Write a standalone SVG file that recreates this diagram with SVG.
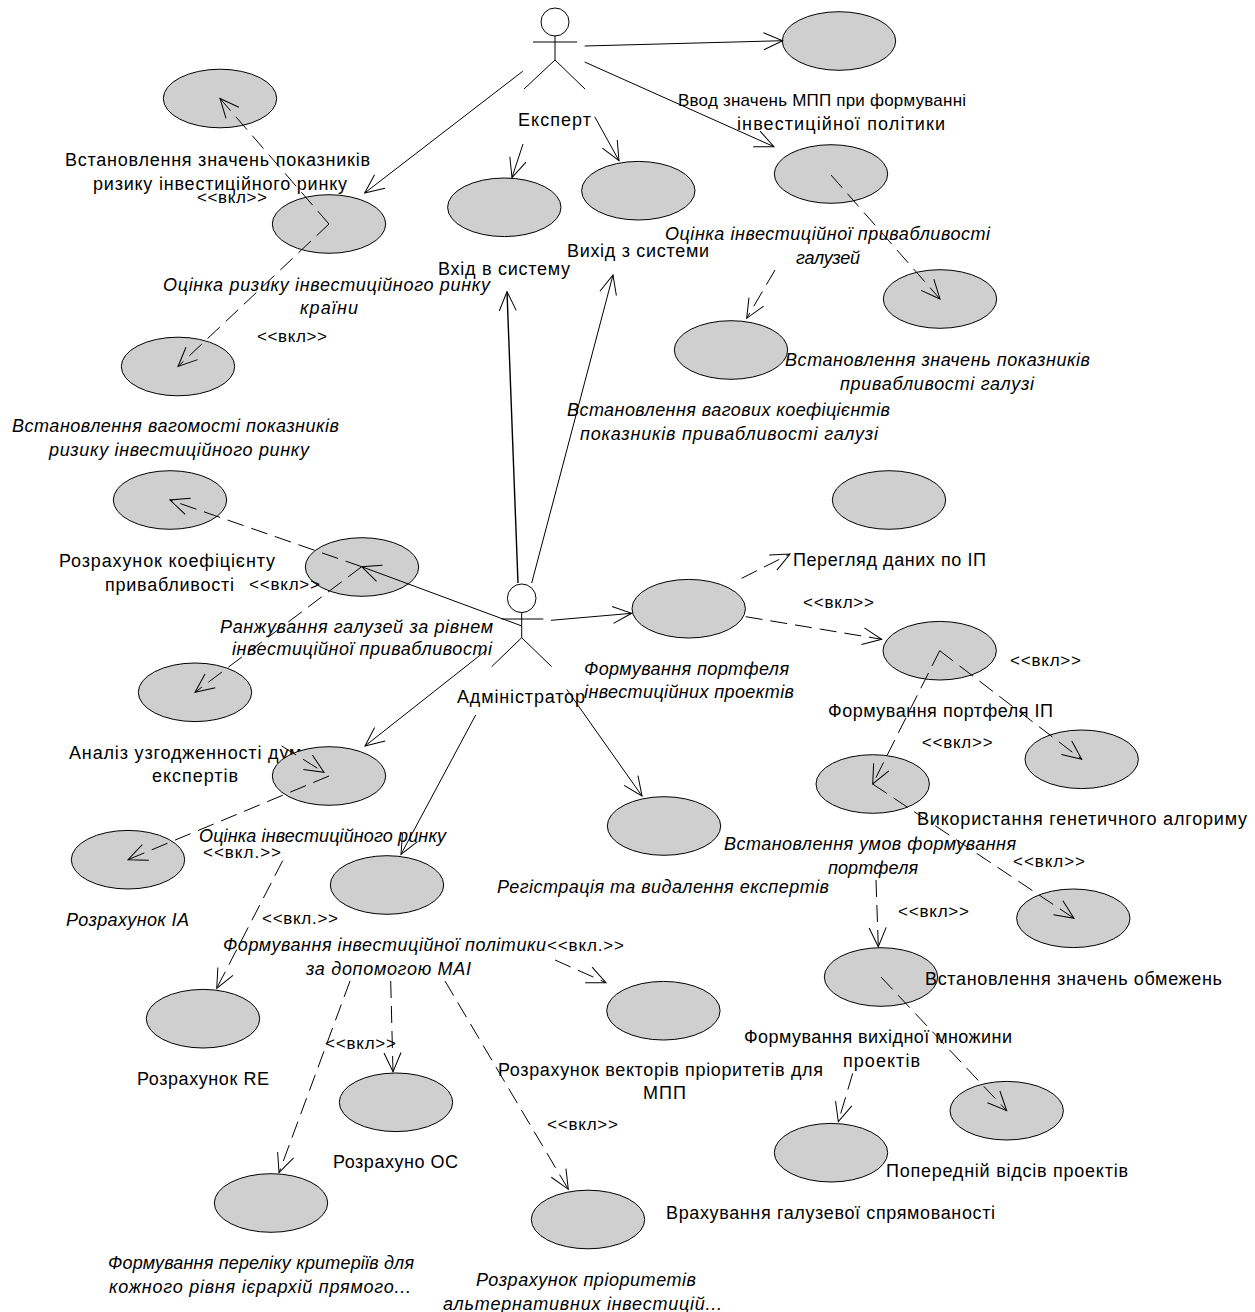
<svg xmlns="http://www.w3.org/2000/svg" width="1255" height="1312" viewBox="0 0 1255 1312">
<style>
text{font-family:"Liberation Sans",Arial,sans-serif;font-size:18px;fill:#000}
.i{font-style:italic}
.s{font-size:17px}
ellipse{fill:#cfcfcf;stroke:#000;stroke-width:1}
.a{fill:none;stroke:#000;stroke-width:1}
.n{fill:#fff}
.d{stroke-dasharray:17 8}
</style>
<defs><marker id="h" markerUnits="userSpaceOnUse" markerWidth="22" markerHeight="20" refX="20" refY="10" orient="auto"><path d="M1 1.5L20 10L1 18.5" fill="none" stroke="#000"/></marker></defs>
<g id="n1"><ellipse cx="839" cy="41" rx="56.7" ry="29.3"/><text class="s" x="678" y="106" textLength="288">Ввод значень МПП при формуванні</text><text x="737" y="130" textLength="208">інвестиційної політики</text></g>
<g id="n2"><ellipse cx="220" cy="98.5" rx="56.7" ry="29.3"/><text x="65" y="166" textLength="305">Встановлення значень показників</text><text x="93" y="190" textLength="254">ризику інвестиційного ринку</text></g>
<g id="n3"><ellipse cx="329" cy="224" rx="56.7" ry="29.3"/><text class="i" x="163" y="291" textLength="327">Оцінка ризику інвестиційного ринку</text><text class="i" x="300" y="314" textLength="58">країни</text></g>
<g id="n4"><ellipse cx="504.3" cy="207.3" rx="56.7" ry="29.3"/><text x="438" y="275" textLength="132">Вхід в систему</text></g>
<g id="n5"><ellipse cx="638.3" cy="190.7" rx="56.7" ry="29.3"/><text x="567" y="257" textLength="142">Вихід з системи</text></g>
<g id="n6"><ellipse cx="831" cy="174" rx="56.7" ry="29.3"/><text class="i" x="665" y="240" textLength="325">Оцінка інвестиційної привабливості</text><text class="i" x="796" y="264" textLength="64">галузей</text></g>
<g id="n7"><ellipse cx="940" cy="299" rx="56.7" ry="29.3"/><text class="i" x="785" y="366" textLength="305">Встановлення значень показників</text><text class="i" x="840" y="390" textLength="194">привабливості галузі</text></g>
<g id="n8"><ellipse cx="731" cy="350" rx="56.7" ry="29.3"/><text class="i" x="567" y="416" textLength="323">Встановлення вагових коефіцієнтів</text><text class="i" x="580" y="440" textLength="298">показників привабливості галузі</text></g>
<g id="n9"><ellipse cx="178" cy="366.5" rx="56.7" ry="29.3"/><text class="i" x="12" y="432" textLength="327">Встановлення вагомості показників</text><text class="i" x="49" y="456" textLength="260">ризику інвестиційного ринку</text></g>
<g id="n10"><ellipse cx="889" cy="500" rx="56.7" ry="29.3"/><text x="793" y="566" textLength="193">Перегляд даних по ІП</text></g>
<g id="n11"><ellipse cx="170" cy="500" rx="56.7" ry="29.3"/><text x="59" y="566.5" textLength="216">Розрахунок коефіцієнту</text><text x="105" y="590.5" textLength="129">привабливості</text></g>
<g id="n12"><ellipse cx="362" cy="567" rx="56.7" ry="29.3"/><text class="i" x="220" y="633" textLength="273">Ранжування галузей за рівнем</text><text class="i" x="232" y="655" textLength="260">інвестиційної привабливості</text></g>
<g id="n13"><ellipse cx="195" cy="692.3" rx="56.7" ry="29.3"/><text x="69" y="759" textLength="252">Аналіз узгодженності думок</text><text x="152" y="782" textLength="86">експертів</text></g>
<g id="n14"><ellipse cx="688.7" cy="608.7" rx="56.7" ry="29.3"/><text class="i" x="584" y="675" textLength="205">Формування портфеля</text><text class="i" x="584" y="698" textLength="210">інвестиційних проектів</text></g>
<g id="n15"><ellipse cx="939.7" cy="650.7" rx="56.7" ry="29.3"/><text x="828" y="717" textLength="225">Формування портфеля ІП</text></g>
<g id="n16"><ellipse cx="329" cy="776" rx="56.7" ry="29.3"/><text class="i" x="199" y="842" textLength="247">Оцінка інвестиційного ринку</text></g>
<g id="n17"><ellipse cx="128" cy="859.7" rx="56.7" ry="29.3"/><text class="i" x="66" y="926" textLength="123">Розрахунок ІА</text></g>
<g id="n18"><ellipse cx="1081.7" cy="759.3" rx="56.7" ry="29.3"/><text x="917" y="825" textLength="330">Використання генетичного алгориму</text></g>
<g id="n19"><ellipse cx="872.7" cy="784" rx="56.7" ry="29.3"/><text class="i" x="724" y="850" textLength="292">Встановлення умов формування</text><text class="i" x="828" y="874" textLength="90">портфеля</text></g>
<g id="n20"><ellipse cx="664" cy="826" rx="56.7" ry="29.3"/><text class="i" x="497" y="893" textLength="332">Регістрація та видалення експертів</text></g>
<g id="n21"><ellipse cx="387" cy="885" rx="56.7" ry="29.3"/><text class="i" x="223" y="951" textLength="323">Формування інвестиційної політики</text><text class="i" x="306" y="975" textLength="165">за допомогою МАІ</text></g>
<g id="n23"><ellipse cx="881" cy="977" rx="56.7" ry="29.3"/><text x="744" y="1043" textLength="268">Формування вихідної множини</text><text x="843" y="1067" textLength="77">проектів</text></g>
<g id="n22"><ellipse cx="1073.3" cy="918.3" rx="56.7" ry="29.3"/><text x="925" y="985" textLength="297">Встановлення значень обмежень</text></g>
<g id="n24"><ellipse cx="203" cy="1018.7" rx="56.7" ry="29.3"/><text x="137" y="1085" textLength="132">Розрахунок RE</text></g>
<g id="n25"><ellipse cx="663.4" cy="1010.7" rx="56.7" ry="29.3"/><text x="498" y="1076" textLength="325">Розрахунок векторів пріоритетів для</text><text x="643" y="1099" textLength="43">МПП</text></g>
<g id="n26"><ellipse cx="396" cy="1102.3" rx="56.7" ry="29.3"/><text x="333" y="1168" textLength="125">Розрахуно ОС</text></g>
<g id="n27"><ellipse cx="1006.7" cy="1110.7" rx="56.7" ry="29.3"/><text x="886" y="1177" textLength="242">Попередній відсів проектів</text></g>
<g id="n28"><ellipse cx="831" cy="1152.7" rx="56.7" ry="29.3"/><text x="666" y="1219" textLength="329">Врахування галузевої спрямованості</text></g>
<g id="n29"><ellipse cx="271" cy="1203" rx="56.7" ry="29.3"/><text class="i" x="108" y="1269" textLength="306">Формування переліку критеріїв для</text><text class="i" x="109" y="1293" textLength="302">кожного рівня ієрархій прямого...</text></g>
<g id="n30"><ellipse cx="588" cy="1219.5" rx="56.7" ry="29.3"/><text class="i" x="476" y="1286" textLength="220">Розрахунок пріоритетів</text><text class="i" x="443" y="1310" textLength="279">альтернативних інвестицій...</text></g>
<g id="actor-expert" class="a"><circle cx="555" cy="22" r="14"/><path d="M533 42H577M555 36V60M555 60L524 89M555 60L585 89"/></g>
<g id="actor-admin" class="a"><circle cx="521.7" cy="598.3" r="14.3"/><path d="M501.7 619H543.3M521.7 612.6V637.7M521.7 637.7L491.7 666.7M521.7 637.7L551.7 666.7"/></g>
<text x="518" y="126" textLength="73">Експерт</text>
<text x="457" y="703" textLength="128">Адміністратор</text>
<g id="connectors" class="a">
<path d="M584.7 46L782.7 40.7" marker-end="url(#h)"/>
<path d="M584.7 62L774 146.7" marker-end="url(#h)"/>
<path d="M522.7 71.3L364.7 193" marker-end="url(#h)"/>
<path d="M523 144L512 177.5" marker-end="url(#h)"/>
<path d="M594.7 116.7L619 160.7" marker-end="url(#h)"/>
<path d="M518 583L507 291.7" stroke-width="1.4" marker-end="url(#h)"/>
<path d="M531.7 583L613 275" marker-end="url(#h)"/>
<path d="M551 620.3L631.7 613.3" marker-end="url(#h)"/>
<path d="M475.7 715L401 854.3" marker-end="url(#h)"/>
<path d="M566.7 689.3L642 796" marker-end="url(#h)"/>
<path d="M486.7 650L365 746" marker-end="url(#h)"/>
<path d="M521 625.7L361.7 566.7" marker-end="url(#h)"/>
<path class="d" d="M329 224L220 98.5" marker-end="url(#h)"/>
<path class="d" d="M329 224L178 366.5" marker-end="url(#h)"/>
<path class="d" d="M831 175L940 299" marker-end="url(#h)"/>
<path class="d" d="M775 270L746.7 318.3" marker-end="url(#h)"/>
<path class="d" d="M361.7 566.7L170 500" marker-end="url(#h)"/>
<path class="d" d="M361.7 566.7L195 692.3" marker-end="url(#h)"/>
<path class="d" d="M741.7 578.3L790 554" marker-end="url(#h)"/>
<path class="d" d="M745.7 616.7L881.7 639.3" marker-end="url(#h)"/>
<path class="d" d="M939.7 650.7L1081.7 759.3" marker-end="url(#h)"/>
<path class="d" d="M939.7 650.7L872.7 784" marker-end="url(#h)"/>
<path class="d" d="M872.7 784L1074 918.3" marker-end="url(#h)"/>
<path class="d" d="M876 880L878.3 946.7" marker-end="url(#h)"/>
<path class="d" d="M881 977L1006.7 1110.7" marker-end="url(#h)"/>
<path class="d" d="M852.7 1073.3L838.3 1121.7" marker-end="url(#h)"/>
<path class="d" d="M281.7 746L324 772.3" marker-end="url(#h)"/>
<path class="d" d="M329 776L128 859.7" marker-end="url(#h)"/>
<path class="d" d="M282.7 860.7L216.7 988.3" marker-end="url(#h)"/>
<path class="d" d="M350 981L279 1172.7" marker-end="url(#h)"/>
<path class="d" d="M390.7 981L393 1071.7" marker-end="url(#h)"/>
<path class="d" d="M445 981L568.3 1189.3" marker-end="url(#h)"/>
<path class="d" d="M555 960L606 982.7" marker-end="url(#h)"/>
</g>
<g id="labels">
<text class="s" x="197" y="203" textLength="70">&lt;&lt;вкл&gt;&gt;</text>
<text class="s" x="257" y="342" textLength="70">&lt;&lt;вкл&gt;&gt;</text>
<text class="s" x="249" y="590" textLength="71">&lt;&lt;вкл&gt;&gt;</text>
<text class="s" x="803" y="608" textLength="71">&lt;&lt;вкл&gt;&gt;</text>
<text class="s" x="1010" y="666" textLength="71">&lt;&lt;вкл&gt;&gt;</text>
<text class="s" x="921.7" y="748" textLength="71">&lt;&lt;вкл&gt;&gt;</text>
<text class="s" x="1013" y="867" textLength="72">&lt;&lt;вкл&gt;&gt;</text>
<text class="s" x="898" y="917" textLength="71">&lt;&lt;вкл&gt;&gt;</text>
<text class="s" x="203" y="858" textLength="78">&lt;&lt;вкл.&gt;&gt;</text>
<text class="s" x="262" y="924" textLength="76">&lt;&lt;вкл.&gt;&gt;</text>
<text class="s" x="547" y="951" textLength="77">&lt;&lt;вкл.&gt;&gt;</text>
<text class="s" x="325" y="1049" textLength="71">&lt;&lt;вкл&gt;&gt;</text>
<text class="s" x="547" y="1130" textLength="71">&lt;&lt;вкл&gt;&gt;</text>
</g>
</svg>
